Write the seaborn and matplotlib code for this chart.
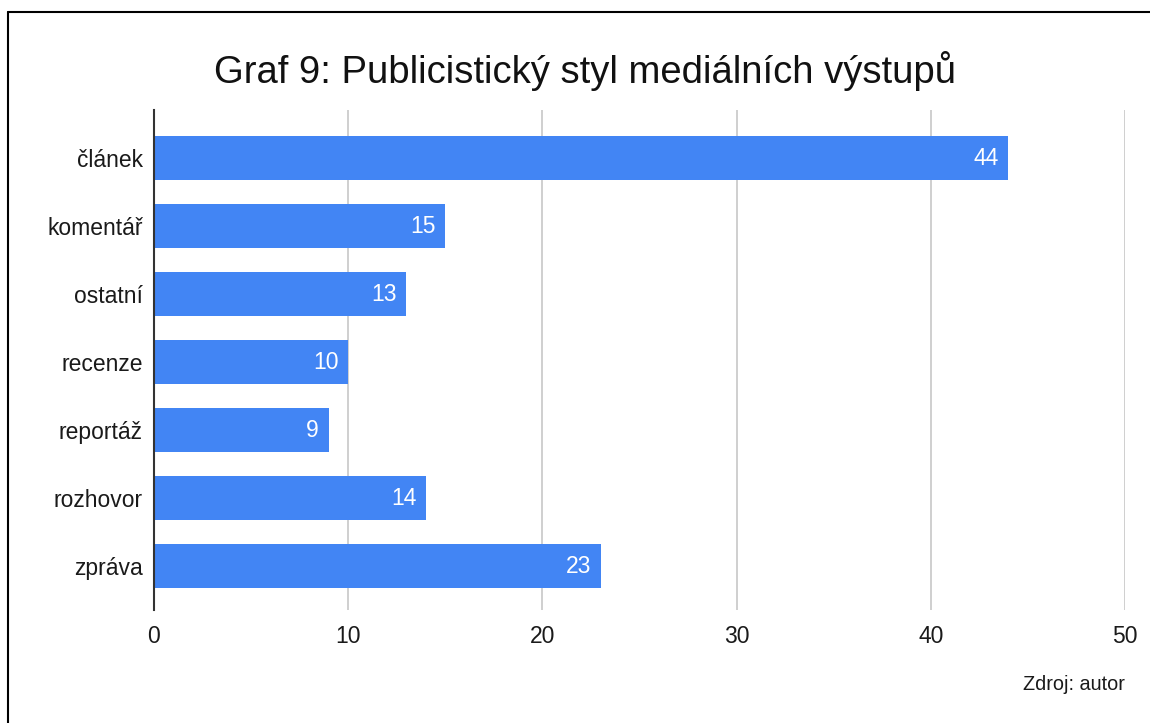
import matplotlib
matplotlib.use("Agg")
import matplotlib.pyplot as plt
import seaborn as sns
import pandas as pd
from matplotlib.lines import Line2D

categories = ["článek", "komentář", "ostatní", "recenze", "reportáž", "rozhovor", "zpráva"]
values = [44, 15, 13, 10, 9, 14, 23]
x_ticks = [0, 10, 20, 30, 40, 50]
title = "Graf 9: Publicistický styl mediálních výstupů"
source = "Zdroj: autor"

sns.set_theme(style="white")
plt.rcParams["font.family"] = ["Liberation Sans", "DejaVu Sans"]

W, H = 1150, 723
fig = plt.figure(figsize=(W / 100, H / 100), dpi=100)
ax = fig.add_axes([154 / W, 1 - 610 / H, (1125 - 154) / W, (610 - 110) / H])

df = pd.DataFrame({"cat": categories, "val": values})
sns.barplot(data=df, x="val", y="cat", color="#4285F4", saturation=1, width=0.65,
            linewidth=0, ax=ax, zorder=3)

ax.set_xlim(0, 50)
ax.set_ylim(6.647, -0.706)
ax.set_xticks(x_ticks)
ax.set_xlabel("")
ax.set_ylabel("")
ax.xaxis.grid(True, color="#cccccc", linewidth=1.3, zorder=0)
ax.yaxis.grid(False)
for s in ["top", "right", "bottom"]:
    ax.spines[s].set_visible(False)
ax.spines["left"].set_color("#333333")
ax.spines["left"].set_linewidth(1.5)
ax.spines["left"].set_zorder(5)
ax.tick_params(axis="both", length=0, labelsize=16.5, labelcolor="#1a1a1a")
ax.tick_params(axis="y", pad=8)
ax.tick_params(axis="x", pad=11)

for c in ax.containers:
    texts = ax.bar_label(c, labels=[str(v) for v in values], label_type="edge", padding=-7,
                         color="white", fontsize=16.5)
    for t in texts:
        t.set_ha("right")

fig.text(584.5 / W, 1 - 71 / H, title, ha="center", va="center", fontsize=27.5, color="#111111")
fig.text(1125 / W, 1 - 684 / H, source, ha="right", va="center", fontsize=14.3, color="#1a1a1a")

fig.add_artist(Line2D([8 / W, 8 / W], [0, 1 - 12 / H], color="black", linewidth=1.5, transform=fig.transFigure))
fig.add_artist(Line2D([8 / W, 1], [1 - 12 / H, 1 - 12 / H], color="black", linewidth=1.5, transform=fig.transFigure))

fig.savefig("out.png", dpi=100, facecolor="white")
